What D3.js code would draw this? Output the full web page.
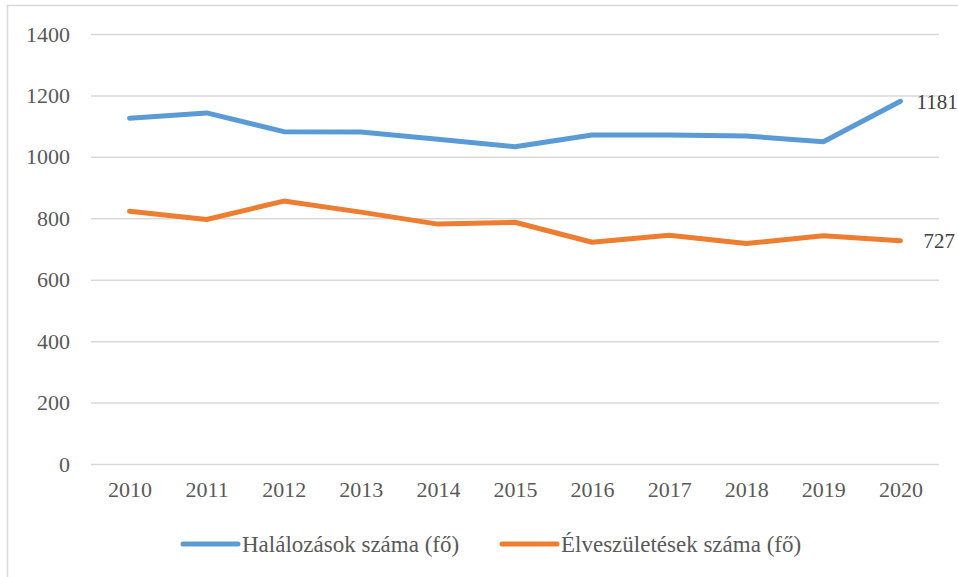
<!DOCTYPE html>
<html><head><meta charset="utf-8">
<script src="https://cdn.jsdelivr.net/npm/d3@7"></script>
<style>body{margin:0;background:#fff}svg{display:block}svg text{font-family:'Liberation Serif','Times New Roman',serif}</style>
</head><body>
<svg id="c" width="958" height="577"></svg>
<script>
const years = ["2010","2011","2012","2013","2014","2015","2016","2017","2018","2019","2020"];
const deaths = [1126,1143,1082,1081,1057,1033,1071,1071,1068,1049,1181];
const births = [823,796,856,820,781,787,722,745,718,743,727];
const yTicks = [0,200,400,600,800,1000,1200,1400];
const seriesNames = ["Halálozások száma (fő)","Élveszületések száma (fő)"];
const colors = ["#5B9BD5","#ED7D31"];

(function(){
const svg = d3.select("#c");
const font = "Liberation Serif";
const textColor = "#595959";

svg.append("rect").attr("x",7.5).attr("y",5.5).attr("width",960).attr("height",580)
  .attr("fill","#fff").attr("stroke","#D9D9D9").attr("stroke-width",1.5);

const mLeft = 91, mRight = 939, mTop = 34, mBottom = 464;
const x = d3.scalePoint().domain(years).range([mLeft, mRight]).padding(0.5);
const y = d3.scaleLinear().domain([0,1400]).range([mBottom, mTop]);

const yAxis = svg.append("g").attr("transform",`translate(${mLeft},0)`)
  .call(d3.axisLeft(y).tickValues(yTicks).tickFormat(d3.format("d")).tickSize(-(mRight-mLeft)).tickPadding(21));
yAxis.attr("font-family",font).attr("font-size",22);
yAxis.select(".domain").remove();
yAxis.selectAll(".tick line").attr("stroke","#D9D9D9").attr("stroke-width",1.5);
yAxis.selectAll(".tick text").attr("fill",textColor);

const xAxis = svg.append("g").attr("transform",`translate(0,${mBottom})`)
  .call(d3.axisBottom(x).tickSize(0).tickPadding(17));
xAxis.attr("font-family",font).attr("font-size",22);
xAxis.select(".domain").remove();
xAxis.selectAll(".tick text").attr("fill",textColor);

const line = d3.line().x((d,i)=>x(years[i])).y(d=>y(d));
[deaths,births].forEach((s,k)=>{
  svg.append("path").datum(s).attr("d",line).attr("fill","none")
    .attr("stroke",colors[k]).attr("stroke-width",5).attr("stroke-linejoin","round").attr("stroke-linecap","round");
});

svg.append("text").attr("x",x(years[10])+16).attr("y",y(deaths[10])).attr("dy","0.35em")
  .attr("font-family",font).attr("font-size",21)
  .attr("fill","#404040").text(deaths[10]);
svg.append("text").attr("x",x(years[10])+23).attr("y",y(births[10])).attr("dy","0.35em")
  .attr("font-family",font).attr("font-size",21)
  .attr("fill","#404040").text(births[10]);

const legendX = [183, 502];
seriesNames.forEach((n,k)=>{
  const g = svg.append("g");
  g.append("line").attr("x1",legendX[k]).attr("x2",legendX[k]+55).attr("y1",544).attr("y2",544)
    .attr("stroke",colors[k]).attr("stroke-width",5).attr("stroke-linecap","round");
  g.append("text").attr("x",legendX[k]+59).attr("y",544).attr("dy","0.35em")
    .attr("font-family",font).attr("font-size",23)
    .attr("fill",textColor).text(n);
});
})();
</script>
</body></html>
